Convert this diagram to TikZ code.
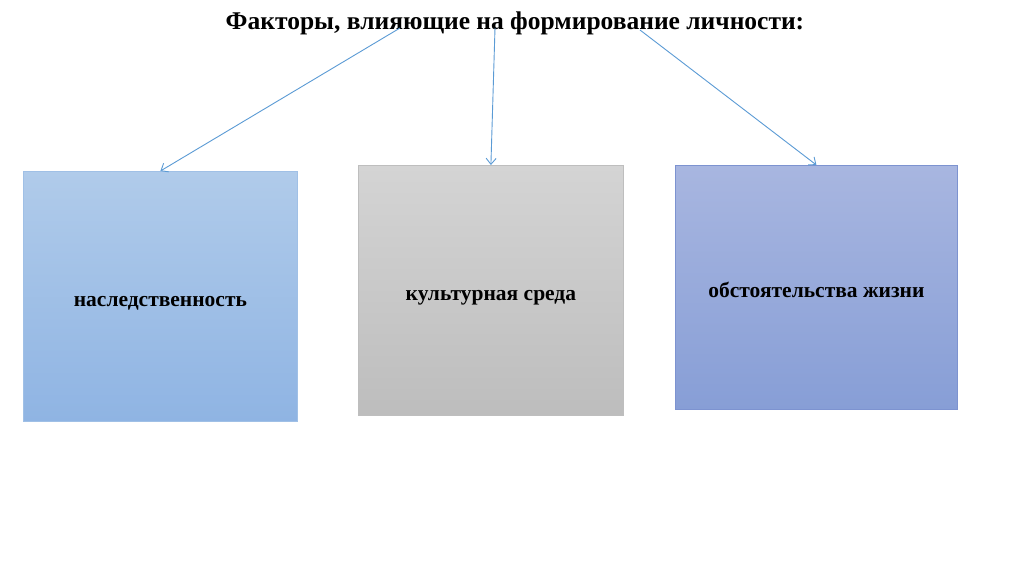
\documentclass[tikz,border=0pt]{standalone}
\usepackage{fontspec}
\setmainfont{Liberation Serif}
\usetikzlibrary{arrows.meta}
\definecolor{arrowblue}{HTML}{5B9BD5}
\tikzset{
  factor/.style={draw, line width=0.8pt, anchor=north west, inner sep=0pt,
    text height=20.5pt, text depth=0pt,
    font=\bfseries\fontsize{21.5}{25}\selectfont},
  link/.style={draw=arrowblue, line width=0.9pt, -{Straight Barb[length=6pt,width=10pt]}}
}
\begin{document}
\begin{tikzpicture}[x=1pt,y=-1pt]
\useasboundingbox[fill=white] (0,0) rectangle (1024,574);
\node[font=\bfseries\fontsize{25.5}{30}\selectfont] (title) at (515,23) {Факторы, влияющие на формирование личности:};
\node[factor, top color={rgb,255:red,176;green,203;blue,234}, bottom color={rgb,255:red,143;green,180;blue,227}, minimum width=274pt, minimum height=250pt, draw={rgb,255:red,160;green,192;blue,230}] (b1) at (23,171) {наследственность};
\node[factor, top color={rgb,255:red,212;green,212;blue,212}, bottom color={rgb,255:red,189;green,189;blue,189}, minimum width=265pt, minimum height=250pt, draw={rgb,255:red,190;green,190;blue,190}] (b2) at (358,165) {культурная среда};
\node[factor, top color={rgb,255:red,168;green,182;blue,224}, bottom color={rgb,255:red,135;green,158;blue,214}, minimum width=282pt, minimum height=244pt, draw={rgb,255:red,125;green,147;blue,208}] (b3) at (675,165) {обстоятельства жизни};
\coordinate (s1) at (400,28);
\coordinate (s2) at (495,28);
\coordinate (s3) at (640,30);
\draw[link] (s1) -- (b1.north);
\draw[link] (s2) -- (b2.north);
\draw[link] (s3) -- (b3.north);
\end{tikzpicture}
\end{document}
